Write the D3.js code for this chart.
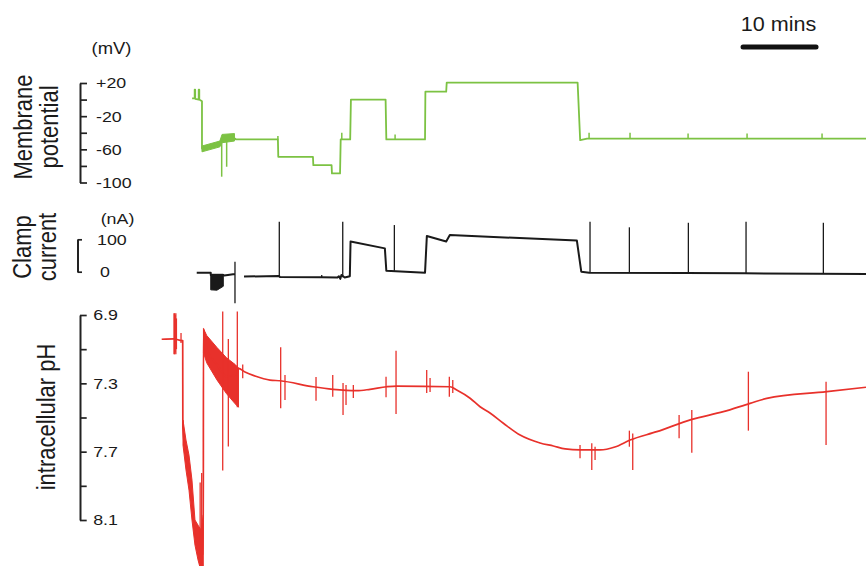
<!DOCTYPE html>
<html><head><meta charset="utf-8">
<script src="https://cdn.jsdelivr.net/npm/d3@7"></script>
<style>
body{margin:0;background:#fff}
svg{display:block}
text{font-family:"Liberation Sans",Arial,Helvetica,sans-serif;fill:#1a1a1a}
</style>
</head><body><svg id="chart" width="866" height="566"></svg>
<script>
// ---------- DATA (time in minutes) ----------
// Membrane potential (mV)
const mvTicks = [20, 0, -20, -40, -60, -80, -100];
const mvLabels = ["+20", "", "-20", "", "-60", "", "-100"];
const greenTrace = [
  [4.4, 1.5], [4.75, 1.5], [4.75, 12], [4.82, 12], [4.82, 1], [5.3, 0], [5.3, 12], [5.38, 12], [5.38, 0],
  [5.75, -2], [5.75, -59], [8.2, -54], [8.5, -47], [10.3, -47], [10.4, -48], [16.15, -48], [16.2, -69],
  [20.95, -69], [21.0, -79], [23.5, -79], [23.55, -89], [24.66, -89], [24.75, -48], [26.05, -48],
  [26.15, 0], [30.9, 0], [31.0, -48], [36.3, -48], [36.35, 9.5], [39.2, 9.5], [39.27, 20.5],
  [57.2, 20.5], [57.55, -49], [58.5, -47], [96.7, -47]
];
const greenBand = [[5.75, -63, -56], [8.2, -57, -50], [8.5, -52, -42], [10.2, -50, -41]];
const greenSpikes = [
  [8.45, -52, -93], [9.13, -50, -81], [16.15, -48, -44], [24.9, -48, -40], [32.2, -48, -42],
  [58.77, -47, -40], [64.38, -47, -40], [72.33, -47, -41], [80.41, -47, -41], [90.68, -47, -41]
];

// Clamp current (nA)
const nATicks = [0, 100];
const nALabels = ["0", "100"];
const blackTrace = [
  [5.03, -3], [6.95, -3], [6.95, -10], [8.67, -10], [8.8, -12], [9.3, -10], [10.0, -8], [10.27, -8], [10.3, null],
  [11.51, -15], [16.3, -13], [16.4, -16], [22.1, -17], [24.3, -18], [24.5, -14], [24.7, -22], [24.85, -10],
  [25.3, -18], [26.0, -14], [26.1, 93], [30.8, 72], [31.0, 3], [36.3, -3], [36.55, 110], [39.2, 93],
  [39.7, 113], [57.1, 96], [57.7, 0], [58.8, -3], [72.0, -4], [80.0, -5], [90.0, -6], [96.7, -7]
];
const blackBand = [[6.95, -56, -8], [7.8, -57, -8], [8.67, -45, -8]];
const blackSpikes = [
  [10.27, 31, -97.5], [16.34, -13, 154], [22.15, -17, -10], [25.03, -17, 154], [32.1, 3, 144],
  [58.9, -3, 154], [64.29, -3, 137], [72.37, -4, 151], [80.27, -5, 154], [90.86, -6, 151]
];

// Intracellular pH
const pHTicks = [6.9, 7.1, 7.3, 7.5, 7.7, 7.9, 8.1];
const pHLabels = ["6.9", "", "7.3", "", "7.7", "", "8.1"];
const redTrace = [
  [0.23, 7.042], [1.9, 7.04], [2.97, 7.05], [3.11, 7.05], [3.13, 7.56], [3.56, 7.72], [3.97, 7.8],
  [4.38, 7.99], [4.79, 8.18], [5.21, 8.23], [5.62, 8.26], [5.93, 8.3], [5.95, 6.98], [6.4, 7.10],
  [7.8, 7.19], [9.1, 7.26], [10.5, 7.25], [10.73, 7.212], [11.64, 7.234], [13.01, 7.257], [15.07, 7.281],
  [16.44, 7.285], [20.96, 7.32], [23.7, 7.335], [26.95, 7.343], [28.77, 7.335], [31.05, 7.32],
  [32.42, 7.316], [39.73, 7.32], [40.64, 7.339], [42.47, 7.387], [43.84, 7.437], [45.2, 7.474],
  [47.03, 7.534], [49.32, 7.603], [52.05, 7.649], [53.88, 7.667], [55.5, 7.684], [57.53, 7.69],
  [60.27, 7.69], [62.3, 7.673], [64.38, 7.632], [68.04, 7.583], [72.84, 7.511], [77.16, 7.466],
  [80.82, 7.417], [83.11, 7.388], [91.33, 7.349], [96.7, 7.323]
];
const redBands = [
  [[3.15, 7.515, 7.661], [3.56, 7.632, 7.807], [3.97, 7.72, 7.925], [4.38, 7.866, 8.10],
   [4.79, 8.10, 8.247], [5.21, 8.13, 8.334], [5.62, 8.159, 8.40], [5.93, 8.07, 8.40]],
  [[5.95, 6.98, 7.12], [6.4, 7.02, 7.18], [7.8, 7.09, 7.28], [9.1, 7.15, 7.36], [10.3, 7.19, 7.42], [10.75, 7.21, 7.44]]
];
const redSpikes = [
  [1.92, 6.89, 7.13], [2.0, 6.89, 7.13], [2.08, 6.9, 7.12], [2.17, 6.89, 7.13], [2.25, 6.92, 7.10],
  [2.88, 7.005, 7.064], [5.5, 7.88, 8.40], [5.71, 7.825, 8.40],
  [8.59, 6.88, 7.81], [9.36, 7.04, 7.67], [10.59, 6.88, 7.44], [11.33, 7.19, 7.27],
  [16.53, 7.089, 7.446], [17.12, 7.251, 7.398], [21.37, 7.263, 7.402], [23.66, 7.251, 7.378],
  [25.07, 7.298, 7.486], [25.48, 7.31, 7.427], [26.48, 7.31, 7.386], [30.96, 7.261, 7.382],
  [32.33, 7.109, 7.48], [36.53, 7.222, 7.357], [36.99, 7.269, 7.351], [39.63, 7.261, 7.378],
  [40.1, 7.281, 7.357], [57.53, 7.661, 7.739], [59.14, 7.651, 7.807], [59.59, 7.671, 7.749],
  [64.29, 7.577, 7.671], [64.75, 7.593, 7.807], [71.1, 7.486, 7.622], [72.84, 7.456, 7.706],
  [80.59, 7.232, 7.577], [91.23, 7.29, 7.661]
];

const scaleBarMinutes = 10;
const scaleBarLabel = "10 mins";
const scaleBarStart = 79.86;

// ---------- DRAW ----------
const svg = d3.select("#chart");
const GREEN = "#7cc243", RED = "#e8312b", BLACK = "#1a1a1a", AXIS = "#222";
const SX = 1.15;

const x = d3.scaleLinear().domain([0, 96.7]).range([160, 866]);
const yV = d3.scaleLinear().domain([20, -100]).range([83, 182.5]);
const yI = d3.scaleLinear().domain([0, 100]).range([271.7, 239.3]);
const yP = d3.scaleLinear().domain([6.9, 8.1]).range([315, 520]);

function drawAxis(scale, ticks, labels, ax, tSize, pad, fontSize) {
  const g = svg.append("g").attr("transform", `translate(${ax},0)`)
    .call(d3.axisRight(scale).tickValues(ticks).tickSize(tSize).tickSizeOuter(0).tickPadding(pad)
      .tickFormat((d, i) => labels[i]));
  g.select(".domain").attr("stroke", AXIS).attr("stroke-width", 2);
  g.selectAll(".tick line").attr("stroke", AXIS).attr("stroke-width", 1.7);
  g.selectAll(".tick text").each(function () {
    const t = d3.select(this);
    const xx = +t.attr("x");
    t.attr("x", xx / SX).attr("transform", `scale(${SX},1)`)
      .attr("fill", "#1a1a1a").style("font-size", fontSize + "px")
      .style("font-family", '"Liberation Sans",Arial,sans-serif');
  });
  return g;
}
drawAxis(yV, mvTicks, mvLabels, 80, 7, 9, 15.5);
const gI = drawAxis(yI, nATicks, nALabels, 77.5, 4.5, 15, 15.5);
gI.selectAll(".tick text").filter(d => d === 0).attr("x", function () { return +d3.select(this).attr("x") + 3 / SX; });
drawAxis(yP, pHTicks, pHLabels, 80, 6.7, 6.5, 15.5);

function txt(str, tx, ty, size, anchor, rot, sx) {
  svg.append("text")
    .attr("transform", `translate(${tx},${ty}) scale(${sx},1)` + (rot ? " rotate(-90)" : ""))
    .attr("text-anchor", anchor).attr("dy", rot ? "0.35em" : null)
    .style("font-size", size + "px").text(str);
}
txt("(mV)", 111.5, 54, 16, "middle", false, SX);
txt("(nA)", 117.5, 224, 15.5, "middle", false, SX);
txt("Membrane", 23, 127, 22, "middle", true, 1.18);
txt("potential", 49, 127, 22, "middle", true, 1.18);
txt("Clamp", 22, 247, 22, "middle", true, 1.18);
txt("current", 47, 247, 22, "middle", true, 1.18);
txt("intracellular pH", 46, 417, 22, "middle", true, 1.18);

// scale bar
svg.append("line")
  .attr("x1", x(scaleBarStart)).attr("x2", x(scaleBarStart + scaleBarMinutes))
  .attr("y1", 47).attr("y2", 47)
  .attr("stroke", "#111").attr("stroke-width", 5).attr("stroke-linecap", "round");
txt(scaleBarLabel, (x(scaleBarStart) + x(scaleBarStart + scaleBarMinutes)) / 2 - 1, 31, 20, "middle", false, 1.08);

function drawTrace(data, yS, color, w, curve) {
  svg.append("path").datum(data)
    .attr("d", d3.line().defined(d => d[1] !== null).curve(curve || d3.curveLinear).x(d => x(d[0])).y(d => yS(d[1])))
    .attr("fill", "none").attr("stroke", color).attr("stroke-width", w).attr("stroke-linejoin", "round");
}
function drawBand(data, yS, color) {
  svg.append("path").datum(data)
    .attr("d", d3.area().x(d => x(d[0])).y0(d => yS(d[1])).y1(d => yS(d[2])))
    .attr("fill", color).attr("stroke", color).attr("stroke-width", 1);
}
function drawSpikes(data, yS, color, w) {
  svg.append("g").selectAll("line").data(data).join("line")
    .attr("x1", d => x(d[0])).attr("x2", d => x(d[0]))
    .attr("y1", d => yS(d[1])).attr("y2", d => yS(d[2]))
    .attr("stroke", color).attr("stroke-width", w);
}

// green
drawBand(greenBand, yV, GREEN);
drawTrace(greenTrace, yV, GREEN, 1.8);
drawSpikes(greenSpikes, yV, GREEN, 1.5);
// black
drawBand(blackBand, yI, BLACK);
drawTrace(blackTrace, yI, BLACK, 2);
drawSpikes(blackSpikes, yI, BLACK, 1.3);
// red
redBands.forEach(b => drawBand(b, yP, RED));
drawTrace(redTrace, yP, RED, 1.7, d3.curveMonotoneX);
drawSpikes(redSpikes, yP, RED, 1.3);
</script>
</body></html>
